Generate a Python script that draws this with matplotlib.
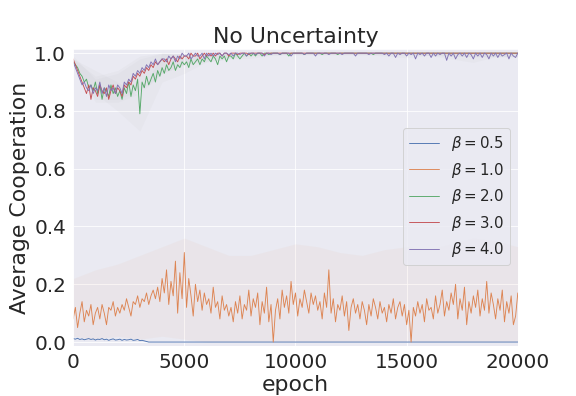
import numpy as np
import matplotlib
matplotlib.use("Agg")
import matplotlib.pyplot as plt
import seaborn as sns

sns.set_style("darkgrid")
plt.rcParams['font.family'] = ['DejaVu Sans']

epochs = list(range(0, 20001, 100))
coarse_epochs = list(range(0, 20001, 1000))

labels = [r"$\beta = 0.5$", r"$\beta = 1.0$", r"$\beta = 2.0$", r"$\beta = 3.0$", r"$\beta = 4.0$"]

# beta = 0.5 (drops to zero after ~3400)
b05_epochs = list(range(0, 3401, 100)) + [20000]
b05 = [0.012, 0.010, 0.013, 0.009, 0.011, 0.008, 0.010, 0.012, 0.009, 0.011,
       0.007, 0.010, 0.009, 0.012, 0.008, 0.010, 0.006, 0.009, 0.011, 0.007,
       0.008, 0.010, 0.006, 0.009, 0.007, 0.008, 0.010, 0.006, 0.007, 0.009,
       0.005, 0.006, 0.004, 0.002, 0.000, 0.000]

b10 = [0.08, 0.12, 0.05, 0.10, 0.14, 0.07, 0.11, 0.09, 0.13, 0.06, 0.10,
       0.12, 0.08, 0.13, 0.10, 0.06, 0.12, 0.11, 0.14, 0.09, 0.12,
       0.10, 0.13, 0.11, 0.15, 0.12, 0.09, 0.14, 0.13, 0.16, 0.12,
       0.15, 0.14, 0.17, 0.13, 0.16, 0.18, 0.15, 0.19, 0.14, 0.22,
       0.17, 0.25, 0.13, 0.21, 0.16, 0.28, 0.10, 0.24, 0.15, 0.31,
       0.12, 0.22, 0.16, 0.09, 0.20, 0.14, 0.18, 0.11, 0.17, 0.13,
       0.15, 0.10, 0.19, 0.12, 0.14, 0.08, 0.16, 0.11, 0.13, 0.09,
       0.12, 0.07, 0.14, 0.10, 0.16, 0.08, 0.13, 0.11, 0.18, 0.09,
       0.15, 0.12, 0.17, 0.06, 0.14, 0.10, 0.19, 0.07, 0.13, 0.00,
       0.11, 0.15, 0.08, 0.18, 0.12, 0.16, 0.10, 0.21, 0.13, 0.17,
       0.09, 0.15, 0.12, 0.18, 0.14, 0.10, 0.17, 0.13, 0.16, 0.11,
       0.14, 0.08, 0.17, 0.12, 0.25, 0.10, 0.15, 0.07, 0.13, 0.11,
       0.16, 0.09, 0.14, 0.04, 0.12, 0.15, 0.10, 0.13, 0.08, 0.14,
       0.11, 0.06, 0.13, 0.09, 0.15, 0.12, 0.08, 0.14, 0.10, 0.12,
       0.07, 0.13, 0.10, 0.15, 0.08, 0.12, 0.14, 0.09, 0.13, 0.06,
       0.11, 0.00, 0.12, 0.09, 0.14, 0.10, 0.13, 0.07, 0.15, 0.11,
       0.12, 0.08, 0.16, 0.10, 0.13, 0.18, 0.09, 0.14, 0.11, 0.17,
       0.13, 0.20, 0.08, 0.15, 0.11, 0.19, 0.06, 0.14, 0.10, 0.16,
       0.12, 0.18, 0.09, 0.15, 0.11, 0.21, 0.10, 0.17, 0.13, 0.08,
       0.15, 0.11, 0.18, 0.07, 0.14, 0.10, 0.16, 0.06, 0.09, 0.17]
# band around beta = 1.0 at coarse epochs
b10_hi = [0.22, 0.25, 0.27, 0.30, 0.33, 0.36, 0.33, 0.30, 0.30, 0.32, 0.34,
          0.33, 0.31, 0.30, 0.32, 0.33, 0.32, 0.34, 0.36, 0.35, 0.33]
b10_lo = [0.02, 0.01, 0.02, 0.01, 0.02, 0.01, 0.00, 0.00, 0.00, 0.00, 0.00,
          0.00, 0.00, 0.00, 0.00, 0.00, 0.00, 0.00, 0.00, 0.00, 0.00]

b20 = [0.97, 0.96, 0.95, 0.93, 0.92, 0.90, 0.91, 0.88, 0.89, 0.87, 0.90,
       0.86, 0.89, 0.84, 0.88, 0.87, 0.85, 0.89, 0.86, 0.88, 0.85,
       0.87, 0.84, 0.88, 0.86, 0.90, 0.85, 0.89, 0.87, 0.91, 0.79,
       0.90, 0.88, 0.92, 0.89, 0.91, 0.93, 0.90, 0.94, 0.92, 0.95,
       0.93, 0.96, 0.94, 0.95, 0.97, 0.94, 0.96, 0.95, 0.97, 0.96,
       0.97, 0.95, 0.98, 0.96, 0.97, 0.98, 0.96, 0.98, 0.97, 0.99,
       0.98, 0.97, 0.99, 0.98, 0.96, 0.99, 0.98, 0.99, 0.97, 0.99,
       0.99, 0.98, 1.00, 0.99, 0.98, 0.99, 1.00, 0.99, 1.00, 0.99,
       1.00, 0.99, 1.00, 1.00, 0.99, 1.00, 1.00, 0.995, 1.00, 1.00,
       1.00, 1.00, 0.995, 1.00, 1.00, 1.00, 0.99, 1.00, 1.00, 1.00,
       1.00, 1.00, 1.00, 0.995, 1.00, 1.00, 1.00, 1.00, 1.00, 1.00,
       1.00, 0.995, 1.00, 1.00, 1.00, 1.00, 1.00, 1.00, 0.995, 1.00,
       1.00, 1.00, 1.00, 1.00, 1.00, 1.00, 1.00, 1.00, 1.00, 1.00,
       1.00, 1.00, 1.00, 1.00, 0.995, 1.00, 1.00, 1.00, 1.00, 1.00,
       1.00, 1.00, 1.00, 1.00, 1.00, 1.00, 1.00, 1.00, 1.00, 1.00,
       1.00, 1.00, 1.00, 1.00, 1.00, 1.00, 1.00, 1.00, 1.00, 1.00,
       1.00, 1.00, 1.00, 1.00, 1.00, 1.00, 1.00, 1.00, 1.00, 1.00,
       1.00, 1.00, 1.00, 1.00, 1.00, 1.00, 1.00, 1.00, 1.00, 1.00,
       1.00, 1.00, 1.00, 1.00, 1.00, 1.00, 1.00, 1.00, 1.00, 1.00,
       1.00, 1.00, 1.00, 1.00, 1.00, 1.00, 1.00, 1.00, 1.00, 1.00]

b30 = [0.98, 0.96, 0.94, 0.92, 0.90, 0.88, 0.86, 0.89, 0.84, 0.88, 0.87,
       0.85, 0.89, 0.87, 0.86, 0.88, 0.84, 0.87, 0.89, 0.86, 0.88,
       0.87, 0.85, 0.89, 0.88, 0.90, 0.89, 0.92, 0.91, 0.93, 0.92,
       0.94, 0.93, 0.95, 0.94, 0.96, 0.95, 0.97, 0.96, 0.97, 0.98,
       0.97, 0.98, 0.96, 0.98, 0.99, 0.98, 0.97, 0.99, 0.98, 0.99,
       0.99, 0.98, 1.00, 0.99, 0.99, 1.00, 0.98, 0.99, 1.00, 0.99,
       1.00, 0.99, 1.00, 0.99, 1.00, 1.00, 0.99, 1.00, 1.00, 0.99,
       1.00, 1.00, 1.00, 0.995, 1.00, 1.00, 1.00, 1.00, 0.995, 1.00,
       1.00, 1.00, 1.00, 1.00, 1.00, 0.995, 1.00, 1.00, 1.00, 1.00,
       1.00, 1.00, 1.00, 1.00, 1.00, 1.00, 1.00, 1.00, 1.00, 1.00,
       1.00, 1.00, 1.00, 1.00, 1.00, 1.00, 1.00, 1.00, 1.00, 1.00,
       1.00, 1.00, 1.00, 1.00, 1.00, 1.00, 1.00, 1.00, 1.00, 1.00,
       1.00, 1.00, 1.00, 1.00, 1.00, 1.00, 1.00, 1.00, 1.00, 1.00,
       1.00, 1.00, 1.00, 1.00, 1.00, 1.00, 1.00, 1.00, 1.00, 1.00,
       1.00, 1.00, 1.00, 1.00, 1.00, 1.00, 1.00, 1.00, 1.00, 1.00,
       1.00, 1.00, 1.00, 1.00, 1.00, 1.00, 1.00, 1.00, 1.00, 1.00,
       1.00, 1.00, 1.00, 1.00, 1.00, 1.00, 1.00, 1.00, 1.00, 1.00,
       1.00, 1.00, 1.00, 1.00, 1.00, 1.00, 1.00, 1.00, 1.00, 1.00,
       1.00, 1.00, 1.00, 1.00, 1.00, 1.00, 1.00, 1.00, 1.00, 1.00,
       1.00, 1.00, 1.00, 1.00, 1.00, 1.00, 1.00, 1.00, 1.00, 1.00]

b40 = [0.97, 0.95, 0.93, 0.91, 0.89, 0.90, 0.88, 0.87, 0.89, 0.86, 0.88,
       0.87, 0.90, 0.86, 0.88, 0.85, 0.89, 0.87, 0.88, 0.86, 0.89,
       0.88, 0.86, 0.90, 0.89, 0.91, 0.90, 0.93, 0.92, 0.94, 0.93,
       0.95, 0.94, 0.96, 0.95, 0.97, 0.96, 0.98, 0.96, 0.97, 0.98,
       0.98, 0.97, 0.99, 0.98, 0.99, 0.97, 0.99, 0.98, 1.00, 0.99,
       0.99, 1.00, 0.98, 0.99, 1.00, 0.99, 0.99, 1.00, 0.98, 1.00,
       0.99, 1.00, 0.99, 1.00, 0.995, 1.00, 0.99, 1.00, 1.00, 0.995,
       1.00, 0.99, 1.00, 1.00, 0.995, 1.00, 1.00, 0.99, 1.00, 1.00,
       1.00, 0.995, 1.00, 1.00, 1.00, 0.99, 1.00, 1.00, 0.995, 1.00,
       1.00, 1.00, 0.995, 1.00, 1.00, 1.00, 1.00, 0.99, 1.00, 1.00,
       1.00, 1.00, 1.00, 0.995, 1.00, 1.00, 1.00, 1.00, 0.99, 1.00,
       1.00, 1.00, 1.00, 1.00, 0.995, 1.00, 1.00, 1.00, 1.00, 1.00,
       0.995, 1.00, 1.00, 1.00, 1.00, 1.00, 0.99, 1.00, 1.00, 1.00,
       1.00, 1.00, 0.995, 1.00, 1.00, 1.00, 1.00, 1.00, 1.00, 0.995,
       1.00, 0.99, 1.00, 1.00, 0.985, 1.00, 0.995, 1.00, 1.00, 0.99,
       1.00, 0.995, 1.00, 0.98, 1.00, 0.995, 1.00, 0.99, 1.00, 1.00,
       0.985, 1.00, 0.99, 1.00, 0.995, 1.00, 1.00, 0.975, 1.00, 0.99,
       1.00, 0.98, 0.995, 1.00, 0.99, 1.00, 0.985, 1.00, 0.995, 0.98,
       1.00, 0.99, 1.00, 0.985, 1.00, 0.995, 0.98, 1.00, 0.99, 1.00,
       0.985, 1.00, 0.99, 0.995, 1.00, 0.98, 1.00, 0.99, 0.985, 1.00]

# band spread for the high-cooperation series at coarse epochs
high_sd = [0.01, 0.04, 0.05, 0.06, 0.05, 0.03, 0.02, 0.01, 0.008, 0.006, 0.005,
           0.005, 0.005, 0.005, 0.005, 0.006, 0.008, 0.01, 0.012, 0.012, 0.012]

colors = sns.color_palette("deep")

fig = plt.figure(figsize=(8, 5.5), dpi=72)
ax = fig.add_axes([0.127, 0.126, 0.772, 0.750])

# bands
ax.fill_between(coarse_epochs, b10_lo, b10_hi, color=colors[1], alpha=0.05, lw=0)
for series, col in [(b20, colors[2]), (b30, colors[3]), (b40, colors[4])]:
    c = np.array(series[::10])
    ax.fill_between(coarse_epochs, c - np.array(high_sd),
                    np.clip(c + np.array(high_sd), None, 1.0),
                    color='gray', alpha=0.035, lw=0)

ax.plot(b05_epochs, b05, color=colors[0], lw=0.9, label=labels[0])
ax.plot(epochs, b10, color=colors[1], lw=0.9, label=labels[1])
ax.plot(epochs, b20, color=colors[2], lw=0.9, label=labels[2])
ax.plot(epochs, b30, color=colors[3], lw=0.9, label=labels[3])
ax.plot(epochs, b40, color=colors[4], lw=0.9, label=labels[4])

ax.set_xlim(0, 20000)
ax.set_ylim(-0.014, 1.014)
ax.set_xticks([0, 5000, 10000, 15000, 20000])
ax.set_yticks([0.0, 0.2, 0.4, 0.6, 0.8, 1.0])
ax.tick_params(labelsize=20)
ax.set_title("No Uncertainty", fontsize=22)
ax.set_xlabel("epoch", fontsize=22, labelpad=3)
ax.set_ylabel("Average Cooperation", fontsize=22)
ax.legend(loc="center right", fontsize=15, bbox_to_anchor=(1.0, 0.503))

fig.savefig("out.png", dpi=72)
